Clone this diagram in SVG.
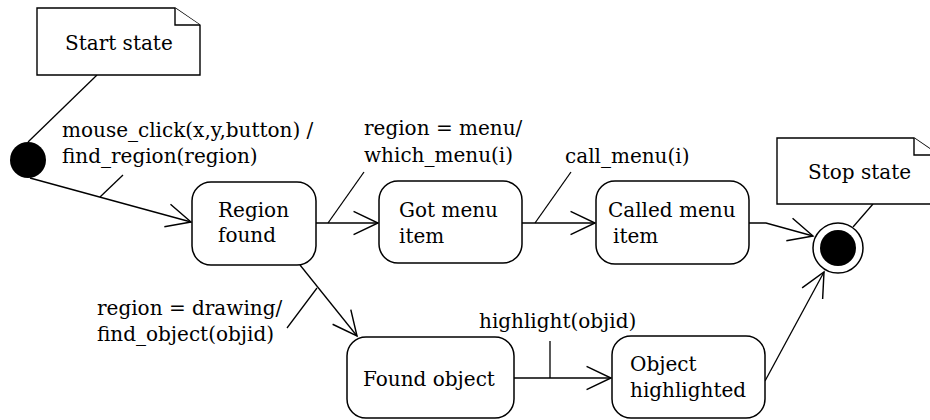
<svg xmlns="http://www.w3.org/2000/svg" width="930" height="420" viewBox="0 0 930 420">
<defs>
<style>
.t{font-family:"DejaVu Serif","Liberation Serif",serif;font-size:20px;fill:#000}
.box{fill:#fff;stroke:#000;stroke-width:1.5}
.note{fill:#fff;stroke:#000;stroke-width:1.4}
.ln{fill:none;stroke:#000;stroke-width:1.3}
</style>
<marker id="arr" markerUnits="userSpaceOnUse" markerWidth="30" markerHeight="30" viewBox="-25 -13 27 26" refX="0" refY="0" orient="auto" overflow="visible">
<path d="M-22,-10.5 L0,0 L-22,10.5" fill="none" stroke="#000" stroke-width="1.3"/>
</marker>
</defs>
<rect width="930" height="420" fill="#fff"/>
<g id="connectors">
<path class="ln" d="M97,75 L28,142"/>
<path class="ln" d="M873,204 L853,227"/>
<path class="ln" d="M30,178 L191,222" marker-end="url(#arr)"/>
<path class="ln" d="M123,175 L100,197"/>
<path class="ln" d="M316,223 L378,223" marker-end="url(#arr)"/>
<path class="ln" d="M328,223 L364,172"/>
<path class="ln" d="M522,223 L595,223" marker-end="url(#arr)"/>
<path class="ln" d="M535,223 L571,172"/>
<path class="ln" d="M749,223 L766,223 L813,236" marker-end="url(#arr)"/>
<path class="ln" d="M300,265 L357,336" marker-end="url(#arr)"/>
<path class="ln" d="M317,288 L287,328"/>
<path class="ln" d="M514,378 L611,378" marker-end="url(#arr)"/>
<path class="ln" d="M550,341 L550,378"/>
<path class="ln" d="M765,381 L824,272" marker-end="url(#arr)"/>
</g>
<g id="labels">
<text class="t" x="62" y="137">mouse_click(x,y,button) /</text>
<text class="t" x="62" y="163">find_region(region)</text>
<text class="t" x="364" y="135">region = menu/</text>
<text class="t" x="364" y="162">which_menu(i)</text>
<text class="t" x="565" y="163">call_menu(i)</text>
<text class="t" x="97" y="315">region = drawing/</text>
<text class="t" x="97" y="341">find_object(objid)</text>
<text class="t" x="479" y="328">highlight(objid)</text>
</g>
<g id="start-note">
<path class="note" d="M37,8 L175,8 L200,25 L200,75 L37,75 Z"/>
<path class="note" d="M175,8 L175,25 L200,25"/>
<text class="t" x="65" y="50">Start state</text>
</g>
<g id="stop-note">
<path class="note" d="M777,138 L914,138 L939,155 L939,204 L777,204 Z"/>
<path class="note" d="M914,138 L914,155 L939,155"/>
<text class="t" x="808" y="179">Stop state</text>
</g>
<g id="start">
<circle cx="28" cy="160" r="18" fill="#000"/>
</g>
<g id="stop">
<circle cx="838" cy="248" r="25" fill="#fff" stroke="#000" stroke-width="1.5"/>
<circle cx="838" cy="248" r="18" fill="#000"/>
</g>
<g id="region-found">
<rect class="box" x="192" y="182" width="124" height="83" rx="19"/>
<text class="t" x="218" y="217">Region</text>
<text class="t" x="218" y="242">found</text>
</g>
<g id="got-menu">
<rect class="box" x="379" y="181" width="143" height="82" rx="19"/>
<text class="t" x="399" y="217">Got menu</text>
<text class="t" x="399" y="243">item</text>
</g>
<g id="called-menu">
<rect class="box" x="596" y="181" width="153" height="83" rx="19"/>
<text class="t" x="608" y="217">Called menu</text>
<text class="t" x="613" y="243">item</text>
</g>
<g id="found-object">
<rect class="box" x="347" y="337" width="167" height="81" rx="19"/>
<text class="t" x="363" y="386">Found object</text>
</g>
<g id="object-highlighted">
<rect class="box" x="612" y="336" width="153" height="82" rx="19"/>
<text class="t" x="630" y="371">Object</text>
<text class="t" x="630" y="397">highlighted</text>
</g>
</svg>
